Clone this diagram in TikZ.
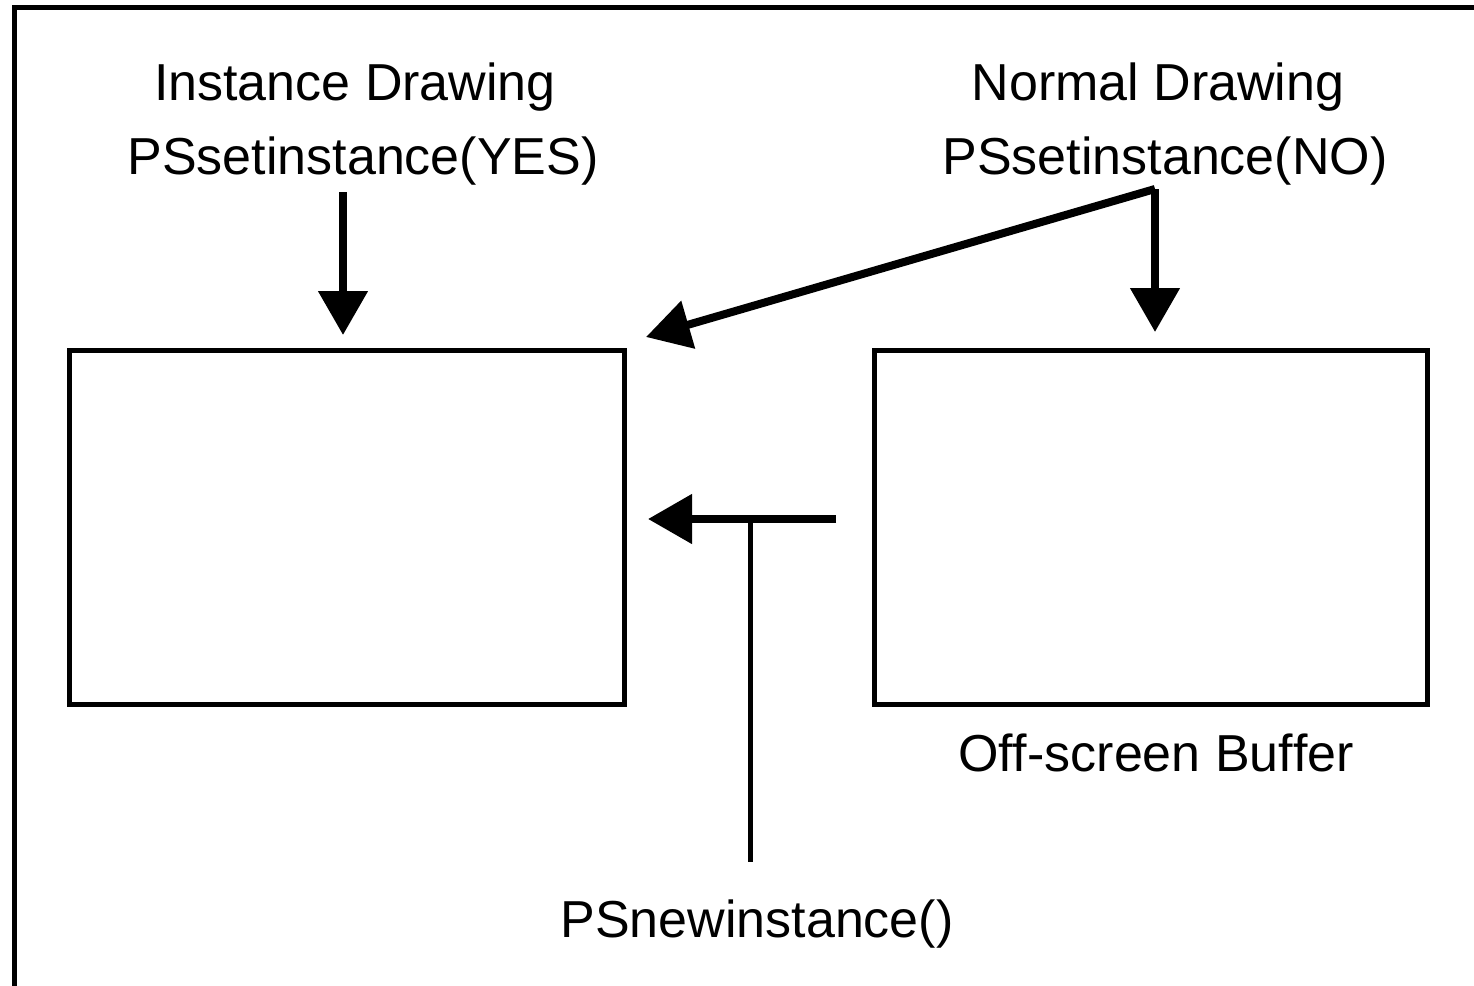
\documentclass[tikz,border=0pt]{standalone}
\usepackage{fontspec}
\setmainfont[Ligatures={NoCommon}]{Liberation Sans}
\usetikzlibrary{arrows.meta}
\begin{document}
\begin{tikzpicture}[x=1pt,y=-1pt,
  lbl/.style={anchor=base,inner sep=0pt,font=\fontsize{52}{62}\selectfont},
  panel/.style={draw,line width=5pt,inner sep=0pt,outer sep=0pt,minimum height=354pt},
  bigarrow/.style={line width=8pt,-{Triangle[length=44pt,width=48pt]}},
  frameline/.style={line width=5pt}]
\useasboundingbox (0,0) rectangle (1474,985);
\draw[frameline] (14,990) -- (14,7.5) -- (1480,7.5);
% boxes
\node[panel,minimum width=555pt] (screen) at (346.5,527) {};
\node[panel,minimum width=553pt] (buffer) at (1150.5,527) {};
% labels
\node[lbl] (inst) at (355,100) {Instance Drawing};
\node[lbl] (instyes) at (363,174) {PSsetinstance(YES)};
\node[lbl] (norm) at (1158,100) {Normal Drawing};
\node[lbl] (normno) at (1165,174) {PSsetinstance(NO)};
\node[lbl] (offbuf) at (1156,771) {Of\kern0ptf-screen Buf\kern0ptfer};
\node[lbl] (newinst) at (757,937) {PSnewinstance()};
% connector points
\coordinate (a1s) at (343,192);
\coordinate (a1e) at (343,335);
\coordinate (a2s) at (1155,189);
\coordinate (a2e) at (1155,332);
\coordinate (a3e) at (646,337);
\coordinate (a4s) at (836,519);
\coordinate (a4e) at (648,519);
\coordinate (tj) at (750,519);
\coordinate (te) at (750,862);
% arrows
\draw[bigarrow] (a1s) -- (a1e);
\draw[bigarrow] (a2s) -- (a2e);
\draw[bigarrow] (a2s) -- (a3e);
\draw[bigarrow] (a4s) -- (a4e);
\draw[line width=5pt] (tj) -- (te);
\end{tikzpicture}
\end{document}
